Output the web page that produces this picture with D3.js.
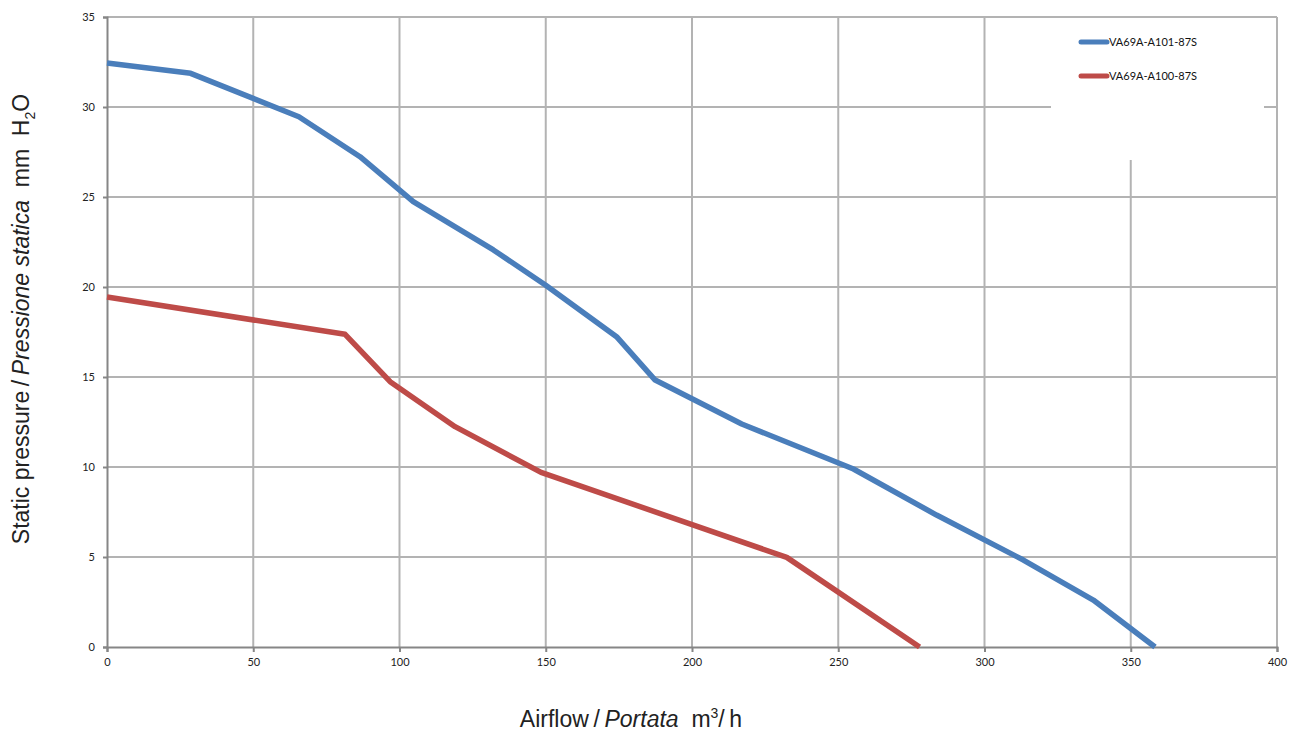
<!DOCTYPE html>
<html><head><meta charset="utf-8">
<script src="https://cdn.jsdelivr.net/npm/d3@7"></script>
<style>body{margin:0;background:#fff}svg{display:block}</style>
</head><body>
<script>
const xTicks = [0,50,100,150,200,250,300,350,400];
const yTicks = [0,5,10,15,20,25,30,35];
const seriesNames = ["VA69A-A101-87S","VA69A-A100-87S"];
const blueX = [0,28.6,65.6,86.5,104.7,132.1,150,174.2,187.4,217,255.2,283.6,313.3,337.2,358.3];
const blueY = [32.44,31.87,29.46,27.24,24.74,22.06,20.1,17.24,14.83,12.39,9.89,7.33,4.83,2.61,0];
const redX = [0,81.4,96.8,119,148.4,232.4,277.8];
const redY = [19.44,17.37,14.74,12.24,9.7,4.98,0];
const colors = ["#4a7ebb","#be4b48"];

const W=1290,H=731;
const svg=d3.select("body").append("svg").attr("width",W).attr("height",H);
const x=d3.scaleLinear().domain([0,400]).range([107,1277]);
const y=d3.scaleLinear().domain([0,35]).range([647,17]);

// grid
svg.append("g").selectAll("line").data(yTicks.filter(d=>d>0)).join("line")
 .attr("x1",x(0)).attr("x2",x(400)).attr("y1",d=>y(d)).attr("y2",d=>y(d))
 .attr("stroke","#b3b3b3").attr("stroke-width",2);
svg.append("g").selectAll("line").data(xTicks.filter(d=>d>0)).join("line")
 .attr("x1",d=>x(d)).attr("x2",d=>x(d)).attr("y1",y(0)).attr("y2",y(35))
 .attr("stroke","#b3b3b3").attr("stroke-width",2);

// legend box (white, covers grid)
svg.append("rect").attr("x",1051).attr("y",18).attr("width",213).attr("height",142).attr("fill","#fff");

// axes
const fTick="Lato, 'Open Sans', sans-serif";
const ax=svg.append("g").attr("transform",`translate(0,${y(0)})`)
 .call(d3.axisBottom(x).tickValues(xTicks).tickSize(5).tickPadding(6));
ax.select(".domain").attr("stroke","#868686").attr("stroke-width",2);
ax.selectAll(".tick line").attr("stroke","#868686").attr("stroke-width",2);
ax.selectAll("text").attr("font-family",fTick).attr("font-size",11).attr("fill","#222");
const ay=svg.append("g").attr("transform",`translate(${x(0)},0)`)
 .call(d3.axisLeft(y).tickValues(yTicks).tickSize(4).tickPadding(8));
ay.select(".domain").attr("stroke","#868686").attr("stroke-width",2);
ay.selectAll(".tick line").attr("stroke","#868686").attr("stroke-width",2);
ay.selectAll("text").attr("font-family",fTick).attr("font-size",11).attr("fill","#222");

// lines
const line=d3.line().x(d=>x(d[0])).y(d=>y(d[1]));
const series=[d3.zip(blueX,blueY),d3.zip(redX,redY)];
svg.append("g").selectAll("path").data(series).join("path")
 .attr("d",line).attr("fill","none").attr("stroke",(d,i)=>colors[i])
 .attr("stroke-width",5.5).attr("stroke-linejoin","round");

// legend
const lg=svg.append("g").selectAll("g").data(seriesNames).join("g")
 .attr("transform",(d,i)=>`translate(0,${42+i*34})`);
lg.append("line").attr("x1",1081).attr("x2",1107).attr("stroke",(d,i)=>colors[i])
 .attr("stroke-width",5).attr("stroke-linecap","round");
lg.append("text").attr("x",1109).attr("y",4).text(d=>d)
 .attr("font-family",fTick).attr("font-size",11).attr("fill","#111");

// axis titles
const fT="'Liberation Sans', Arial, sans-serif";
const xt=svg.append("text").attr("x",631).attr("y",727).attr("text-anchor","middle")
 .attr("font-family",fT).attr("font-size",23).attr("fill","#222");
xt.append("tspan").text("Airflow\u2009/\u2009");
xt.append("tspan").attr("font-style","italic").text("Portata");
xt.append("tspan").text("\u00a0\u00a0m");
xt.append("tspan").attr("font-size",14).attr("dy",-9).text("3");
xt.append("tspan").attr("dy",9).text("/\u2009h");

const yt=svg.append("text").attr("transform","translate(29,319) rotate(-90)").attr("text-anchor","middle")
 .attr("font-family",fT).attr("font-size",23).attr("fill","#222");
yt.append("tspan").text("Static pressure\u2009/\u2009");
yt.append("tspan").attr("font-style","italic").text("Pressione statica");
yt.append("tspan").text("\u00a0\u00a0mm\u00a0\u00a0H");
yt.append("tspan").attr("font-size",14).attr("dy",6).text("2");
yt.append("tspan").attr("dy",-6).text("O");
</script>
</body></html>
